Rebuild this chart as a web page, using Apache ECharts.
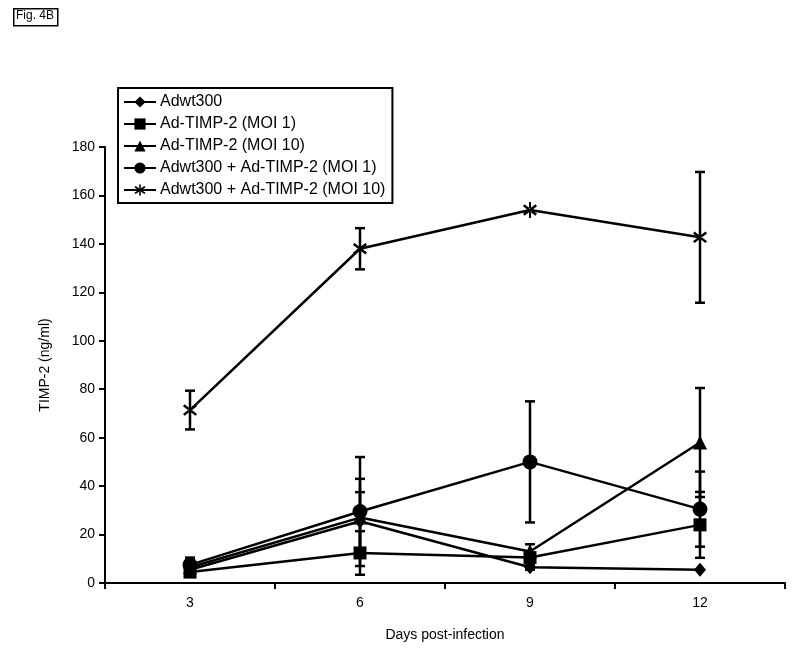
<!DOCTYPE html>
<html>
<head>
<meta charset="utf-8">
<script src="https://cdn.jsdelivr.net/npm/echarts@6/dist/echarts.min.js"></script>
<style>
html,body{margin:0;padding:0;background:#fff;}
#chart{width:800px;height:658px;}
</style>
</head>
<body>
<div id="chart"></div>
<script>
const days = ['3', '6', '9', '12'];
const seriesNames = ['Adwt300', 'Ad-TIMP-2 (MOI 1)', 'Ad-TIMP-2 (MOI 10)', 'Adwt300 + Ad-TIMP-2 (MOI 1)', 'Adwt300 + Ad-TIMP-2 (MOI 10)'];
const adwt300 = [5.5, 25.5, 6.5, 5.5];
const adwt300Err = [1, 12, 1, 0];
const timpMoi1 = [4.5, 12.4, 10.5, 24];
const timpMoi1Err = [1, 9, 1.5, 13.6];
const timpMoi10 = [6.5, 27, 13, 58];
const timpMoi10Err = [2, 16, 3, 22.5];
const comboMoi1 = [7.5, 29.5, 50, 30.5];
const comboMoi1Err = [3, 22.5, 25, 15.5];
const comboMoi10 = [71.4, 138, 154, 142.7];
const comboMoi10Err = [8, 8.5, 0, 27];
const yTicks = [0, 20, 40, 60, 80, 100, 120, 140, 160, 180];

const starPath = 'path://M-1.3,-10L1.3,-10L1.3,10L-1.3,10Z M-9,-4.8L7,7.2L9,4.8L-7,-7.2Z M9,-4.8L-7,7.2L-9,4.8L7,-7.2Z';

const defs = [
  {name: seriesNames[0], data: adwt300, err: adwt300Err, symbol: 'diamond', size: [12, 14]},
  {name: seriesNames[1], data: timpMoi1, err: timpMoi1Err, symbol: 'rect', size: 13},
  {name: seriesNames[2], data: timpMoi10, err: timpMoi10Err, symbol: 'triangle', size: 14},
  {name: seriesNames[3], data: comboMoi1, err: comboMoi1Err, symbol: 'circle', size: 15},
  {name: seriesNames[4], data: comboMoi10, err: comboMoi10Err, symbol: starPath, size: [14, 16]}
];

function errRender(params, api) {
  const x = api.value(0), m = api.value(1), e = api.value(2);
  if (!e) return null;
  const top = api.coord([x, m + e]);
  const bot = api.coord([x, m - e]);
  const hw = 5;
  const st = {stroke: '#000', lineWidth: 2.5};
  return {
    type: 'group',
    children: [
      {type: 'line', shape: {x1: top[0], y1: top[1], x2: bot[0], y2: bot[1]}, style: st},
      {type: 'line', shape: {x1: top[0] - hw, y1: top[1], x2: top[0] + hw, y2: top[1]}, style: st},
      {type: 'line', shape: {x1: bot[0] - hw, y1: bot[1], x2: bot[0] + hw, y2: bot[1]}, style: st}
    ]
  };
}

const series = [];
defs.forEach(d => {
  series.push({
    type: 'custom',
    name: d.name + ' err',
    renderItem: errRender,
    data: d.data.map((v, i) => [i, v, d.err[i]]),
    z: 1,
    silent: true
  });
});
defs.forEach(d => {
  series.push({
    type: 'line',
    name: d.name,
    data: d.data,
    symbol: d.symbol,
    symbolSize: d.size,
    showAllSymbol: true,
    lineStyle: {color: '#000', width: 2.5},
    itemStyle: {color: '#000', borderWidth: 0},
    z: 3,
    animation: false
  });
});

const chart = echarts.init(document.getElementById('chart'), null, {renderer: 'canvas'});
chart.setOption({
  animation: false,
  backgroundColor: '#fff',
  textStyle: {fontFamily: 'Liberation Sans, Arial, sans-serif'},
  grid: {left: 105, right: 15, top: 147, bottom: 75, containLabel: false},
  legend: {
    data: seriesNames,
    orient: 'vertical',
    left: 118,
    top: 88,
    itemWidth: 32,
    itemHeight: 14,
    itemGap: 6,
    padding: [6, 7, 5, 5],
    borderColor: '#000',
    borderWidth: 2,
    backgroundColor: '#fff',
    textStyle: {fontSize: 16, color: '#000', fontFamily: 'Liberation Sans, Arial, sans-serif', padding: [0, 0, 0, -1]},
    selectedMode: false
  },
  xAxis: {
    type: 'category',
    data: days,
    boundaryGap: true,
    name: 'Days post-infection',
    nameLocation: 'middle',
    nameGap: 45,
    nameTextStyle: {fontSize: 14, color: '#000'},
    axisLine: {lineStyle: {color: '#000', width: 2}},
    axisTick: {show: true, length: 6, inside: false, alignWithLabel: false, lineStyle: {color: '#000', width: 2}},
    axisLabel: {fontSize: 14, color: '#000', margin: 13},
    splitLine: {show: false}
  },
  yAxis: {
    type: 'value',
    min: yTicks[0],
    max: yTicks[yTicks.length - 1],
    interval: yTicks[1] - yTicks[0],
    name: 'TIMP-2 (ng/ml)',
    nameLocation: 'middle',
    nameGap: 53,
    nameRotate: 90,
    nameTextStyle: {fontSize: 14, color: '#000'},
    axisLine: {show: true, lineStyle: {color: '#000', width: 2}},
    axisTick: {show: true, length: 6, inside: false, lineStyle: {color: '#000', width: 2}},
    axisLabel: {fontSize: 14, color: '#000', margin: 10},
    splitLine: {show: false}
  },
  graphic: [
    {type: 'rect', left: 13, top: 8, shape: {width: 44, height: 17}, style: {fill: '#fff', stroke: '#000', lineWidth: 1.5}},
    {type: 'text', left: 16, top: 10, style: {text: 'Fig. 4B', font: '12px Liberation Sans, Arial, sans-serif', fill: '#000'}}
  ],
  series: series
});
</script>
</body>
</html>
